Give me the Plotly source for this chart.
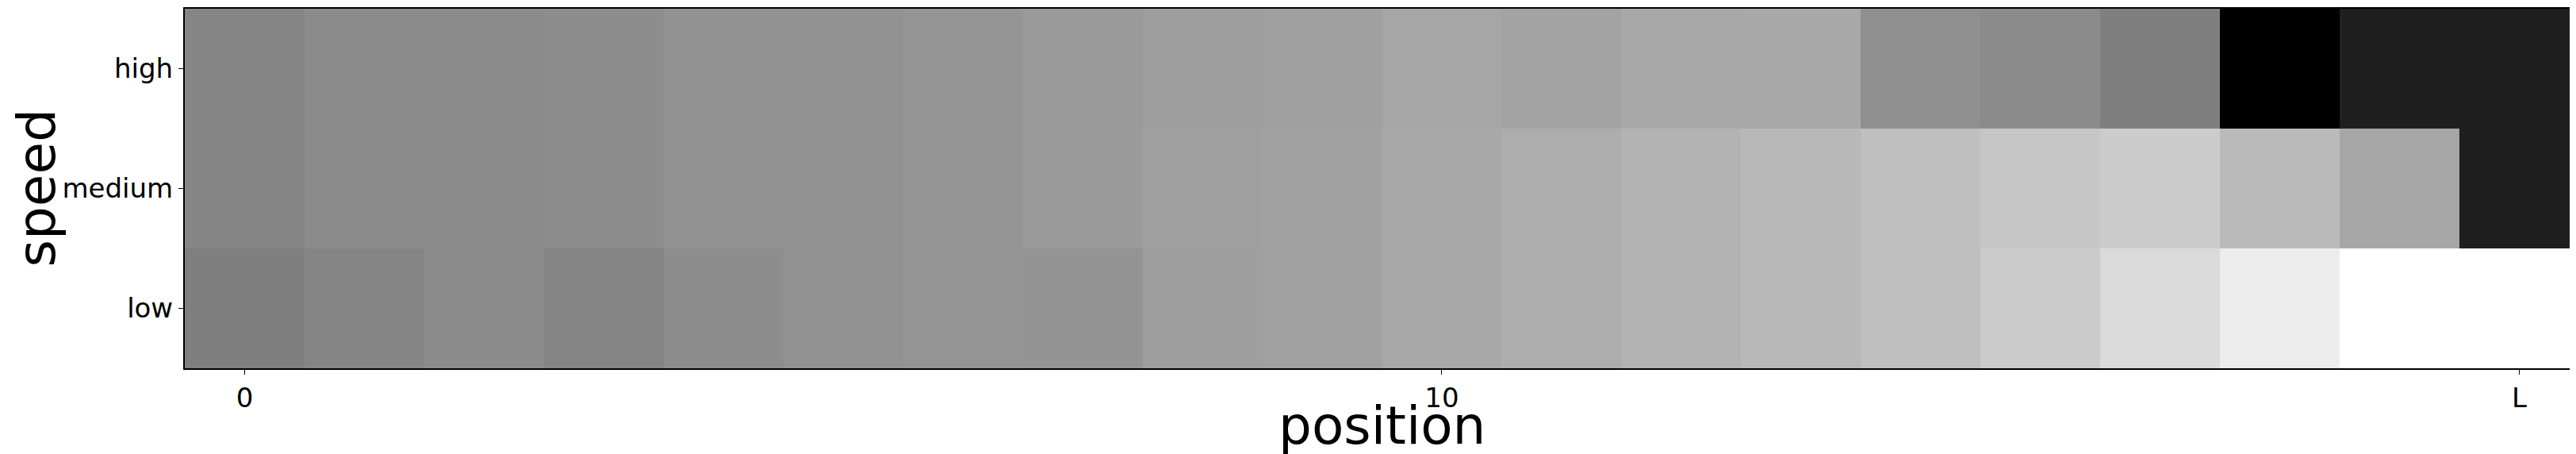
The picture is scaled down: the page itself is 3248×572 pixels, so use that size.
import plotly.graph_objects as go

# position along the track, speed class on the y axis
positions = list(range(20))
speeds = ["low", "medium", "high"]
tick_vals = [0, 10, 19]
tick_text = ["0", "10", "L"]

# gray level (0 = black, 255 = white)
low = [127, 134, 139, 133, 141, 146, 149, 148, 158, 161,
       168, 173, 179, 184, 191, 203, 218, 236, 255, 255]
medium = [134, 139, 139, 141, 146, 146, 149, 155, 159, 161,
          168, 173, 179, 184, 191, 198, 204, 186, 166, 31]
high = [134, 139, 139, 141, 146, 146, 149, 155, 157, 160,
        166, 163, 168, 169, 143, 139, 127, 0, 31, 31]

W, H = 3248, 572
L, R, T, B = 225, 4, 3, 116
plot_w = W - L - R
plot_h = H - T - B

fig = go.Figure(
    go.Heatmap(
        x=positions,
        y=speeds,
        z=[low, medium, high],
        zmin=0,
        zmax=255,
        colorscale=[[0, "black"], [1, "white"]],
        showscale=False,
    )
)

axis_font = dict(family="DejaVu Sans", size=34, color="black")
title_font = dict(family="DejaVu Sans", size=66, color="black")

fig.update_layout(
    width=W,
    height=H,
    margin=dict(l=L, r=R, t=T, b=B, autoexpand=False),
    paper_bgcolor="white",
    plot_bgcolor="white",
    font=axis_font,
)
common = dict(
    ticks="outside",
    ticklen=6,
    tickcolor="black",
    tickfont=axis_font,
    showline=True,
    linecolor="black",
    linewidth=2,
    mirror=True,
    showgrid=False,
    zeroline=False,
    automargin=False,
)
fig.update_xaxes(range=[-0.5, 19.5], tickvals=tick_vals, ticktext=tick_text, **common)
fig.update_yaxes(range=[-0.5, 2.5], **common)

# axis titles placed as annotations so they sit where the reference has them
fig.add_annotation(
    text="position", font=title_font, showarrow=False,
    xref="paper", yref="paper", x=0.5, y=(T + plot_h - 528) / plot_h,
    xanchor="center", yanchor="middle",
)
fig.add_annotation(
    text="speed", font=title_font, showarrow=False, textangle=-90,
    xref="paper", yref="paper", x=(38 - L) / plot_w, y=0.5,
    xanchor="center", yanchor="middle",
)

fig.write_html("out.html")
